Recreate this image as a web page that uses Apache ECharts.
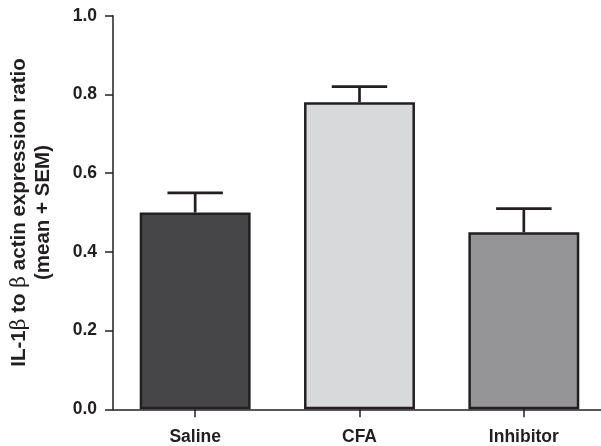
<!DOCTYPE html>
<html>
<head>
<meta charset="utf-8">
<script src="https://cdn.jsdelivr.net/npm/echarts@6/dist/echarts.min.js"></script>
<style>
html,body{margin:0;padding:0;background:#fff;}
#chart{width:601px;height:446px;}
</style>
</head>
<body>
<div id="chart"></div>
<script>
const categories = ['Saline', 'CFA', 'Inhibitor'];
const means = [0.50, 0.78, 0.45];
const sems = [0.05, 0.04, 0.06];
const yTicks = [0, 0.2, 0.4, 0.6, 0.8, 1.0];

const barColors = ['#464648', '#d8d9db', '#959598'];
const ink = '#231f20';
const font = "'Liberation Sans', Arial, Helvetica, sans-serif";

const chart = echarts.init(document.getElementById('chart'), null, {renderer: 'canvas'});

const option = {
  animation: false,
  backgroundColor: '#ffffff',
  grid: {left: 113, right: -5, top: 15.7, bottom: 36.7, outerBoundsMode: 'none', containLabel: false},
  xAxis: {
    type: 'category',
    data: categories,
    axisLine: {show: true, lineStyle: {color: ink, width: 1.5}},
    axisTick: {show: true, alignWithLabel: true, length: 8, lineStyle: {color: ink, width: 1.5}},
    axisLabel: {color: '#231f20', fontFamily: font, fontWeight: 'bold', fontSize: 17.5, margin: 19}
  },
  yAxis: {
    type: 'value',
    min: yTicks[0],
    max: yTicks[yTicks.length - 1],
    interval: 0.2,
    splitLine: {show: false},
    axisLine: {show: true, lineStyle: {color: ink, width: 1.5}},
    axisTick: {show: true, length: 8, lineStyle: {color: ink, width: 1.5}},
    axisLabel: {color: '#231f20', fontFamily: font, fontWeight: 'bold', fontSize: 17.5, margin: 16,
      formatter: v => v.toFixed(1)},
    name: '{b|IL-1}{g|β}{b| to }{g|β}{b| actin expression ratio}\n{b|(mean + SEM)}',
    nameLocation: 'middle',
    nameRotate: 90,
    nameGap: 58,
    nameTextStyle: {
      lineHeight: 23.5,
      rich: {
        b: {fontFamily: font, fontWeight: 'bold', fontSize: 20.5, color: '#231f20', lineHeight: 23.5},
        g: {fontFamily: "'DejaVu Serif', 'Liberation Serif', serif", fontWeight: 'normal', fontSize: 20.5, color: '#231f20', lineHeight: 23.5}
      }
    }
  },
  series: [
    {
      type: 'bar',
      barWidth: '67.5%',
      data: means.map((v, i) => ({value: v, itemStyle: {color: barColors[i]}})),
      itemStyle: {borderColor: ink, borderWidth: 2.5},
      z: 2
    },
    {
      type: 'custom',
      z: 3,
      data: means.map((v, i) => [i, v, v + sems[i]]),
      renderItem: function (params, api) {
        const base = api.coord([api.value(0), api.value(1)]);
        const top = api.coord([api.value(0), api.value(2)]);
        const band = api.size([1, 0])[0];
        const half = band * 0.675 / 4;
        const style = {stroke: ink, lineWidth: 2.7, fill: null};
        return {
          type: 'group',
          children: [
            {type: 'line', shape: {x1: base[0], y1: base[1], x2: top[0], y2: top[1]}, style: style},
            {type: 'line', shape: {x1: top[0] - half, y1: top[1], x2: top[0] + half, y2: top[1]}, style: style}
          ]
        };
      }
    }
  ]
};
chart.setOption(option);
</script>
</body>
</html>
